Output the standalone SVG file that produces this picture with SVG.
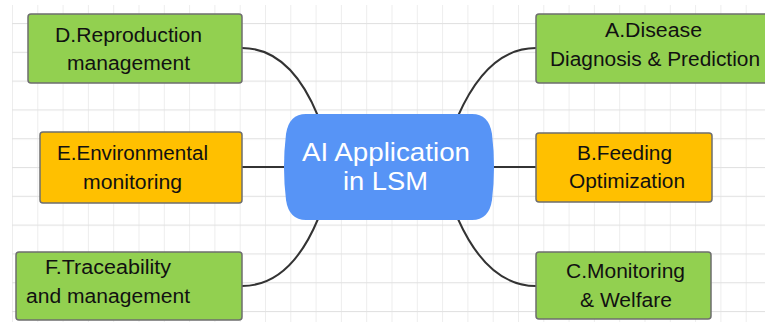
<svg xmlns="http://www.w3.org/2000/svg" width="765" height="322" viewBox="0 0 765 322">
<defs>
<style>
.box{stroke:#6e6e6e;stroke-width:1.5}
.green{fill:#92D050}
.orange{fill:#FFC000}
.lbl{font-family:"Liberation Sans",Arial,sans-serif;font-size:19.5px;fill:#111;text-anchor:middle}
.ctr{font-family:"Liberation Sans",Arial,sans-serif;font-size:26px;fill:#fff;text-anchor:middle}
.conn{fill:none;stroke:#333;stroke-width:2}
</style>
<pattern id="grid" x="12" y="23" width="25.3" height="28.8" patternUnits="userSpaceOnUse">
<line x1="0.5" y1="0" x2="0.5" y2="28.8" stroke="#ededed" stroke-width="1"/>
<line x1="0" y1="0.5" x2="25.3" y2="0.5" stroke="#e2e2e2" stroke-width="1.2"/>
</pattern>
</defs>
<rect width="765" height="322" fill="#fff"/>
<rect x="12" y="5" width="753" height="317" fill="url(#grid)"/>
<g id="connectors">
<path class="conn" d="M242,48 Q290,48 318,116"/>
<path class="conn" d="M536,48 Q488,48 458,116"/>
<path class="conn" d="M242,286 Q290,286 318,219"/>
<path class="conn" d="M536,286 Q488,286 458,219"/>
<path class="conn" d="M242,167 H286"/>
<path class="conn" d="M492,167 H536"/>
</g>
<g id="center">
<path d="M306,114 H472 Q489,114 492,134 Q496,167 492,200 Q489,220 472,220 H306 Q289,220 286,200 Q282,167 286,134 Q289,114 306,114 Z" fill="#5794F6"/>
<text class="ctr" x="386" y="161" textLength="168" lengthAdjust="spacingAndGlyphs">AI Application</text>
<text class="ctr" x="385.5" y="190" textLength="85" lengthAdjust="spacingAndGlyphs">in LSM</text>
</g>
<g id="nodeD">
<rect class="box green" x="28" y="14" width="214" height="69" rx="3"/>
<text class="lbl" x="128.5" y="42" textLength="147" lengthAdjust="spacingAndGlyphs">D.Reproduction</text>
<text class="lbl" x="128.5" y="70" textLength="123" lengthAdjust="spacingAndGlyphs">management</text>
</g>
<g id="nodeE">
<rect class="box orange" x="40" y="132" width="202" height="71" rx="3"/>
<text class="lbl" x="132.5" y="160" textLength="151" lengthAdjust="spacingAndGlyphs">E.Environmental</text>
<text class="lbl" x="132.5" y="189" textLength="99" lengthAdjust="spacingAndGlyphs">monitoring</text>
</g>
<g id="nodeF">
<rect class="box green" x="16" y="252" width="226" height="68" rx="3"/>
<text class="lbl" x="108" y="274" textLength="126" lengthAdjust="spacingAndGlyphs">F.Traceability</text>
<text class="lbl" x="108" y="303" textLength="164" lengthAdjust="spacingAndGlyphs">and management</text>
</g>
<g id="nodeA">
<rect class="box green" x="536" y="14" width="236" height="69" rx="3"/>
<text class="lbl" x="653.5" y="37" textLength="97" lengthAdjust="spacingAndGlyphs">A.Disease</text>
<text class="lbl" x="655" y="66" textLength="210" lengthAdjust="spacingAndGlyphs">Diagnosis &amp; Prediction</text>
</g>
<g id="nodeB">
<rect class="box orange" x="536" y="133" width="176" height="69" rx="3"/>
<text class="lbl" x="624.5" y="160" textLength="95" lengthAdjust="spacingAndGlyphs">B.Feeding</text>
<text class="lbl" x="627" y="188" textLength="116" lengthAdjust="spacingAndGlyphs">Optimization</text>
</g>
<g id="nodeC">
<rect class="box green" x="536" y="252" width="175" height="67" rx="3"/>
<text class="lbl" x="625.5" y="278" textLength="119" lengthAdjust="spacingAndGlyphs">C.Monitoring</text>
<text class="lbl" x="626" y="307" textLength="92" lengthAdjust="spacingAndGlyphs">&amp; Welfare</text>
</g>
</svg>
